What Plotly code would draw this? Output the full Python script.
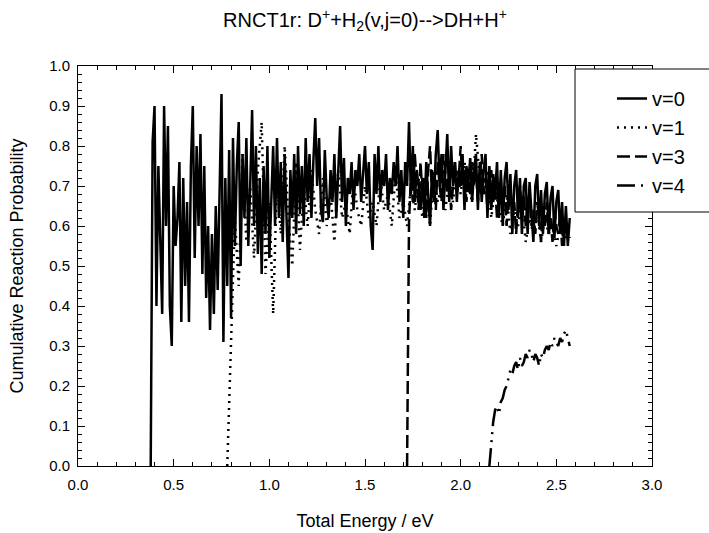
import plotly.graph_objects as go

# ---- data ----
STEP = 0.01
STEP_V1 = 0.02

E0_START = 0.38
P_v0 = [
    0, 0.81, 0.90, 0.40, 0.75, 0.55, 0.38, 0.90, 0.60, 0.85,
    0.40, 0.30, 0.70, 0.55, 0.62, 0.76, 0.36, 0.72, 0.45, 0.66,
    0.36, 0.75, 0.90, 0.52, 0.80, 0.60, 0.83, 0.48, 0.75, 0.42,
    0.60, 0.34, 0.58, 0.38, 0.65, 0.44, 0.70, 0.93, 0.31, 0.72,
    0.45, 0.79, 0.37, 0.82, 0.55, 0.75, 0.86, 0.50, 0.78, 0.62,
    0.82, 0.55, 0.70, 0.89, 0.60, 0.80, 0.53, 0.72, 0.48, 0.75,
    0.58, 0.80, 0.52, 0.68, 0.80, 0.60, 0.82, 0.62, 0.76, 0.56,
    0.78, 0.62, 0.47, 0.74, 0.62, 0.78, 0.58, 0.80, 0.63, 0.75,
    0.60, 0.82, 0.66, 0.78, 0.62, 0.76, 0.87, 0.70, 0.82, 0.64,
    0.61, 0.79, 0.67, 0.62, 0.74, 0.66, 0.78, 0.62, 0.72, 0.85,
    0.66, 0.77, 0.60, 0.72, 0.68, 0.76, 0.64, 0.74, 0.70, 0.78,
    0.66, 0.74, 0.80, 0.68, 0.76, 0.60, 0.54, 0.78, 0.68, 0.80,
    0.66, 0.74, 0.70, 0.78, 0.64, 0.72, 0.68, 0.76, 0.70, 0.80,
    0.66, 0.74, 0.62, 0.76, 0.70, 0.86, 0.68, 0.80, 0.66, 0.74,
    0.70, 0.64, 0.72, 0.62, 0.76, 0.68, 0.60, 0.74, 0.66, 0.78,
    0.84, 0.70, 0.78, 0.64, 0.74, 0.83, 0.66, 0.80, 0.70, 0.76,
    0.66, 0.74, 0.70, 0.78, 0.64, 0.75, 0.71, 0.77, 0.66, 0.74,
    0.78, 0.64, 0.76, 0.66, 0.74, 0.78, 0.62, 0.75, 0.64, 0.73,
    0.68, 0.76, 0.62, 0.74, 0.60, 0.72, 0.76, 0.64, 0.73, 0.58,
    0.70, 0.74, 0.62, 0.72, 0.58, 0.70, 0.72, 0.58, 0.71, 0.64,
    0.56, 0.70, 0.73, 0.60, 0.69, 0.58, 0.68, 0.71, 0.58, 0.67,
    0.70, 0.57, 0.66, 0.69, 0.58, 0.66, 0.55, 0.65, 0.55, 0.62,
]

E1_START = 0.78
P_v1 = [
    0, 0.30, 0.62, 0.45, 0.78, 0.56, 0.70, 0.52, 0.74, 0.86,
    0.48, 0.66, 0.38, 0.72, 0.58, 0.80, 0.62, 0.50, 0.76, 0.54,
    0.70, 0.60, 0.74, 0.64, 0.58, 0.72, 0.60, 0.68, 0.56, 0.74,
    0.62, 0.66, 0.58, 0.72, 0.64, 0.60, 0.70, 0.62, 0.66, 0.60,
    0.72, 0.64, 0.68, 0.60, 0.74, 0.62, 0.66, 0.60, 0.70, 0.64,
    0.72, 0.62, 0.68, 0.60, 0.74, 0.66, 0.70, 0.64, 0.72, 0.66,
    0.74, 0.68, 0.76, 0.70, 0.66, 0.83, 0.72, 0.68, 0.74, 0.62,
    0.70, 0.64, 0.60, 0.68, 0.58, 0.64, 0.60, 0.66, 0.56, 0.62,
    0.58, 0.64, 0.56, 0.62, 0.58, 0.60, 0.55, 0.60, 0.56, 0.58,
]

E3_START = 1.72
P_v3 = [
    0, 0.61, 0.72, 0.66, 0.78, 0.70, 0.64, 0.76, 0.68, 0.72,
    0.62, 0.74, 0.80, 0.68, 0.72, 0.64, 0.76, 0.70, 0.66, 0.78,
    0.72, 0.68, 0.74, 0.64, 0.70, 0.76, 0.68, 0.72, 0.80, 0.70,
    0.74, 0.66, 0.72, 0.68, 0.76, 0.70, 0.74, 0.66, 0.72, 0.78,
    0.68, 0.72, 0.64, 0.70, 0.74, 0.66, 0.70, 0.62, 0.68, 0.72,
    0.64, 0.70, 0.60, 0.68, 0.70, 0.62, 0.66, 0.58, 0.66, 0.70,
    0.62, 0.68, 0.60, 0.66, 0.68, 0.60, 0.64, 0.58, 0.66, 0.62,
    0.56, 0.64, 0.60, 0.66, 0.58, 0.62, 0.56, 0.64, 0.60, 0.58,
    0.63, 0.55, 0.62, 0.58, 0.60, 0.57,
]

E4_START = 2.15
P_v4 = [
    0, 0.06, 0.11, 0.14, 0.15, 0.13, 0.16, 0.17, 0.19, 0.20,
    0.22, 0.24, 0.23, 0.25, 0.26, 0.24, 0.27, 0.25, 0.26, 0.28,
    0.27, 0.29, 0.28, 0.26, 0.28, 0.27, 0.25, 0.28, 0.27, 0.29,
    0.30, 0.29, 0.31, 0.30, 0.32, 0.31, 0.30, 0.32, 0.31, 0.33,
    0.34, 0.32, 0.30,
]

X_TICKS = [0.0, 0.5, 1.0, 1.5, 2.0, 2.5, 3.0]
Y_TICKS = [0.0, 0.1, 0.2, 0.3, 0.4, 0.5, 0.6, 0.7, 0.8, 0.9, 1.0]

FONT = "Liberation Sans, Arial, Helvetica, sans-serif"
W, H = 709, 533
L, R, T, B = 78, 652, 66, 466  # plot-area pixel edges

fig = go.Figure()
fig.add_trace(go.Scatter(y=P_v0, x0=E0_START, dx=STEP, mode="lines", name="v=0",
                         line=dict(color="black", width=2.5)))
fig.add_trace(go.Scatter(y=P_v1, x0=E1_START, dx=STEP_V1, mode="lines", name="v=1",
                         line=dict(color="black", width=2.5, dash="2px,5px")))
fig.add_trace(go.Scatter(y=P_v3, x0=E3_START, dx=STEP, mode="lines", name="v=3",
                         line=dict(color="black", width=2.5, dash="13px,5px")))
fig.add_trace(go.Scatter(y=P_v4, x0=E4_START, dx=STEP, mode="lines", name="v=4",
                         line=dict(color="black", width=2.5, dash="18px,6px,2px,6px,2px,6px")))

axis_common = dict(
    showgrid=False, zeroline=False, showline=True, linecolor="black", linewidth=1,
    mirror="ticks", ticks="inside", ticklen=7, tickwidth=1, tickcolor="black",
    tickfont=dict(family=FONT, size=15, color="black"),
)

fig.update_xaxes(
    range=[0, 3.0], tickvals=X_TICKS, ticktext=[f"{v:.1f}" for v in X_TICKS],
    ticklabelstandoff=5,
    minor=dict(dtick=0.1, ticks="inside", ticklen=4, tickcolor="black", showgrid=False),
    title=dict(text="Total Energy / eV", font=dict(family=FONT, size=18, color="black"), standoff=22),
    **axis_common,
)
fig.update_yaxes(
    range=[0, 1.0], tickvals=Y_TICKS, ticktext=[f"{v:.1f}" for v in Y_TICKS],
    ticklabelstandoff=4,
    minor=dict(dtick=0.02, ticks="inside", ticklen=4, tickcolor="black", showgrid=False),
    title=dict(text="Cumulative Reaction Probability", font=dict(family=FONT, size=18, color="black"), standoff=20),
    **axis_common,
)

pw, ph = R - L, B - T
fig.update_layout(
    width=W, height=H,
    margin=dict(l=L, r=W - R, t=T, b=H - B, autoexpand=False),
    paper_bgcolor="white", plot_bgcolor="white",
    font=dict(family=FONT, color="black"),
    title=dict(text="RNCT1r: D<sup>+</sup>+H<sub>2</sub>(v,j=0)--&gt;DH+H<sup>+</sup>",
               x=(L + R) / 2 / W, xanchor="center", y=1 - 20 / H, yanchor="middle",
               font=dict(family=FONT, size=20, color="black")),
    legend=dict(x=(612 - L) / pw, xanchor="left", y=(B - 79) / ph, yanchor="top",
                bgcolor="rgba(0,0,0,0)", borderwidth=0,
                font=dict(family=FONT, size=20, color="black")),
    shapes=[dict(type="rect", xref="paper", yref="paper",
                 x0=(575 - L) / pw, x1=(715 - L) / pw,
                 y0=(B - 212) / ph, y1=(B - 69) / ph,
                 line=dict(color="black", width=1), fillcolor="white", layer="above")],
    showlegend=True,
)

fig.write_html("out.html")
